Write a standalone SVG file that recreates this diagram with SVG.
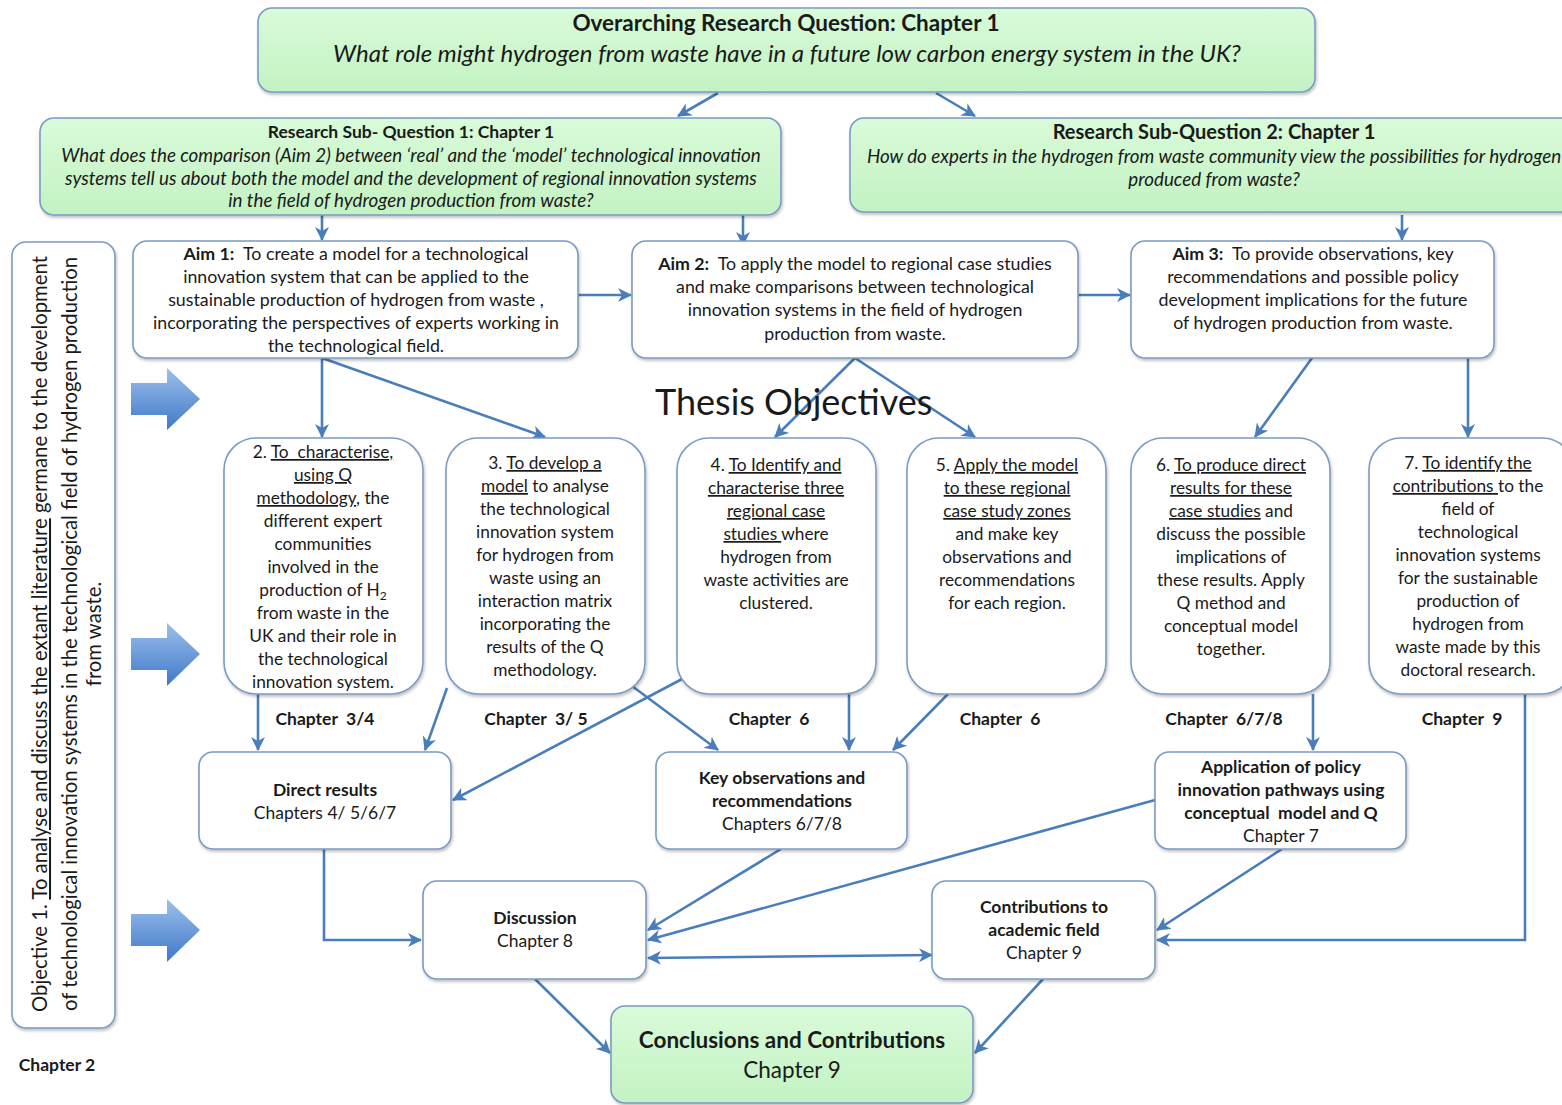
<svg xmlns="http://www.w3.org/2000/svg" width="1562" height="1105" viewBox="0 0 1562 1105">
<defs>
<style>
.box{fill:#ffffff;stroke:#7b9bc4;stroke-width:1.6;filter:url(#sh)}
.gbox{fill:url(#gg);stroke:#7b9bc4;stroke-width:1.6;filter:url(#sh)}
text{font-family:Lato,"Open Sans","Liberation Sans",sans-serif;fill:#1a1a1a}
.t{font-size:17.8px;text-anchor:middle}
.o{font-size:17.3px;text-anchor:middle}
.bt{font-size:17.5px;text-anchor:middle}
.b{font-weight:bold}
.i{font-style:italic}
.u{text-decoration:underline}
.ch{font-size:17.5px;font-weight:bold;text-anchor:middle;white-space:pre}
.c{fill:none;stroke:#4a7ebb;stroke-width:2.6}
.ca{fill:none;stroke:#4a7ebb;stroke-width:2.6;marker-end:url(#ah)}
.bar{fill:url(#bg)}
</style>
<linearGradient id="gg" x1="0" y1="0" x2="0" y2="1"><stop offset="0" stop-color="#d9fbd9"/><stop offset="1" stop-color="#c3f2c3"/></linearGradient>
<linearGradient id="bg" x1="0" y1="0" x2="0" y2="1"><stop offset="0" stop-color="#9cc0ec"/><stop offset="1" stop-color="#3f78c8"/></linearGradient>
<filter id="sh" x="-5%" y="-5%" width="110%" height="115%"><feDropShadow dx="1" dy="2" stdDeviation="1.5" flood-color="#000" flood-opacity="0.25"/></filter>
<marker id="ah" markerUnits="userSpaceOnUse" markerWidth="16" markerHeight="14" refX="13" refY="7" orient="auto"><path d="M0,0 L14,7 L0,14 L4,7 z" fill="#4a7ebb"/></marker>
<marker id="as" markerUnits="userSpaceOnUse" markerWidth="16" markerHeight="14" refX="3" refY="7" orient="auto"><path d="M16,0 L2,7 L16,14 L12,7 z" fill="#4a7ebb"/></marker>
</defs>
<rect width="1562" height="1105" fill="#ffffff"/>

<g id="connectors">
<line class="ca" x1="718" y1="93" x2="678" y2="116"/>
<line class="ca" x1="936" y1="93" x2="975" y2="116"/>
<line class="ca" x1="322" y1="215" x2="322" y2="240"/>
<line class="ca" x1="743" y1="215" x2="743" y2="245"/>
<line class="ca" x1="1402" y1="215" x2="1402" y2="240"/>
<line class="ca" x1="578" y1="295" x2="631" y2="295"/>
<line class="ca" x1="1078" y1="295" x2="1130" y2="295"/>
<line class="ca" x1="322" y1="358" x2="322" y2="437"/>
<line class="ca" x1="322" y1="358" x2="545" y2="437"/>
<line class="ca" x1="855" y1="358" x2="775" y2="437"/>
<line class="ca" x1="855" y1="358" x2="975" y2="437"/>
<line class="ca" x1="1312" y1="358" x2="1255" y2="437"/>
<line class="ca" x1="1468" y1="358" x2="1468" y2="437"/>
<line class="ca" x1="258" y1="694" x2="258" y2="750"/>
<line class="ca" x1="447" y1="688" x2="425" y2="750"/>
<line class="ca" x1="684" y1="678" x2="453" y2="800"/>
<line class="ca" x1="632" y1="686" x2="718" y2="750"/>
<line class="ca" x1="849" y1="694" x2="849" y2="750"/>
<line class="ca" x1="948" y1="694" x2="893" y2="750"/>
<line class="ca" x1="1313" y1="694" x2="1313" y2="750"/>
<polyline class="ca" points="1525,694 1525,940 1157,940"/>
<polyline class="ca" points="324,849 324,940 421,940"/>
<line class="ca" x1="781" y1="849" x2="648" y2="930"/>
<line class="ca" x1="1155" y1="800" x2="648" y2="940"/>
<line class="ca" x1="1282" y1="849" x2="1157" y2="930"/>
<line class="ca" x1="648" y1="958" x2="932" y2="955" marker-start="url(#as)"/>
<line class="ca" x1="535" y1="979" x2="610" y2="1053"/>
<line class="ca" x1="1043" y1="979" x2="975" y2="1053"/>
</g>

<g id="block-arrows">
<polygon class="bar" points="131,383 167,383 167,368 200,399 167,430 167,415 131,415"/>
<polygon class="bar" points="131,638 167,638 167,623 200,654 167,686 167,670 131,670"/>
<polygon class="bar" points="131,914 167,914 167,899 200,930 167,962 167,946 131,946"/>
</g>

<g id="overarching">
<rect class="gbox" x="258" y="8" width="1057" height="84" rx="14"/>
<text x="786" y="31" text-anchor="middle" font-size="22.5" font-weight="bold">Overarching Research Question: Chapter 1</text>
<text x="787" y="62" text-anchor="middle" font-size="24" font-style="italic">What role might hydrogen from waste have in a future low carbon energy system in the UK?</text>
</g>

<g id="subq1">
<rect class="gbox" x="40" y="118" width="741" height="97" rx="14"/>
<text x="411" y="138" text-anchor="middle" font-size="17.5" font-weight="bold">Research Sub- Question 1: Chapter 1</text>
<text class="i" x="411" y="162" text-anchor="middle" font-size="18.8">What does the comparison (Aim 2) between ‘real’ and the ‘model’ technological innovation</text>
<text class="i" x="411" y="185" text-anchor="middle" font-size="18.8">systems tell us about both the model and the development of regional innovation systems</text>
<text class="i" x="411" y="207" text-anchor="middle" font-size="18.8">in the field of hydrogen production from waste?</text>
</g>

<g id="subq2">
<rect class="gbox" x="850" y="118" width="730" height="94" rx="14"/>
<text x="1214" y="139" text-anchor="middle" font-size="20" font-weight="bold">Research Sub-Question 2: Chapter 1</text>
<text class="i" x="1214" y="163" text-anchor="middle" font-size="18.8">How do experts in the hydrogen from waste community view the possibilities for hydrogen</text>
<text class="i" x="1214" y="186" text-anchor="middle" font-size="18.8">produced from waste?</text>
</g>

<g id="objective1">
<rect class="box" x="12" y="242" width="103" height="786" rx="14"/>
<text transform="rotate(-90)" x="-634" y="47" text-anchor="middle" font-size="20.3">Objective 1. <tspan class="u">To analyse and discuss the extant literature</tspan> germane to the development</text>
<text transform="rotate(-90)" x="-634" y="77" text-anchor="middle" font-size="20.3">of technological innovation systems in the technological field of hydrogen production</text>
<text transform="rotate(-90)" x="-634" y="101" text-anchor="middle" font-size="20.3">from waste.</text>
<text x="57" y="1071" text-anchor="middle" font-size="17.5" font-weight="bold">Chapter 2</text>
</g>

<g id="aim1">
<rect class="box" x="133" y="241" width="445" height="117" rx="14"/>
<text class="t" x="356" y="260" xml:space="preserve"><tspan class="b">Aim 1:</tspan>  To create a model for a technological</text>
<text class="t" x="356" y="283">innovation system that can be applied to the</text>
<text class="t" x="356" y="306">sustainable production of hydrogen from waste ,</text>
<text class="t" x="356" y="329">incorporating the perspectives of experts working in</text>
<text class="t" x="356" y="352">the technological field.</text>
</g>

<g id="aim2">
<rect class="box" x="632" y="241" width="446" height="117" rx="14"/>
<text class="t" x="855" y="270" xml:space="preserve"><tspan class="b">Aim 2:</tspan>  To apply the model to regional case studies</text>
<text class="t" x="855" y="293">and make comparisons between technological</text>
<text class="t" x="855" y="316">innovation systems in the field of hydrogen</text>
<text class="t" x="855" y="340">production from waste.</text>
</g>

<g id="aim3">
<rect class="box" x="1131" y="241" width="363" height="117" rx="14"/>
<text class="t" x="1313" y="260" xml:space="preserve"><tspan class="b">Aim 3:</tspan>  To provide observations, key</text>
<text class="t" x="1313" y="283">recommendations and possible policy</text>
<text class="t" x="1313" y="306">development implications for the future</text>
<text class="t" x="1313" y="329">of hydrogen production from waste.</text>
</g>

<text x="655" y="415" font-size="36">Thesis Objectives</text>

<g id="obj2">
<rect class="box" x="224" y="438" width="199" height="256" rx="32"/>
<text class="o" x="323" y="458" xml:space="preserve">2. <tspan class="u">To  characterise,</tspan></text>
<text class="o" x="323" y="481"><tspan class="u">using Q</tspan></text>
<text class="o" x="323" y="504"><tspan class="u">methodology</tspan>, the</text>
<text class="o" x="323" y="527">different expert</text>
<text class="o" x="323" y="550">communities</text>
<text class="o" x="323" y="573">involved in the</text>
<text class="o" x="323" y="596">production of H<tspan font-size="12" dy="4">2</tspan></text>
<text class="o" x="323" y="619">from waste in the</text>
<text class="o" x="323" y="642">UK and their role in</text>
<text class="o" x="323" y="665">the technological</text>
<text class="o" x="323" y="688">innovation system.</text>
<text class="ch" x="325" y="725">Chapter  3/4</text>
</g>

<g id="obj3">
<rect class="box" x="446" y="438" width="199" height="256" rx="32"/>
<text class="o" x="545" y="469">3. <tspan class="u">To develop a</tspan></text>
<text class="o" x="545" y="492"><tspan class="u">model</tspan> to analyse</text>
<text class="o" x="545" y="515">the technological</text>
<text class="o" x="545" y="538">innovation system</text>
<text class="o" x="545" y="561">for hydrogen from</text>
<text class="o" x="545" y="584">waste using an</text>
<text class="o" x="545" y="607">interaction matrix</text>
<text class="o" x="545" y="630">incorporating the</text>
<text class="o" x="545" y="653">results of the Q</text>
<text class="o" x="545" y="676">methodology.</text>
<text class="ch" x="536" y="725">Chapter  3/ 5</text>
</g>

<g id="obj4">
<rect class="box" x="677" y="438" width="199" height="256" rx="32"/>
<text class="o" x="776" y="471">4. <tspan class="u">To Identify and</tspan></text>
<text class="o" x="776" y="494"><tspan class="u">characterise three</tspan></text>
<text class="o" x="776" y="517"><tspan class="u">regional case</tspan></text>
<text class="o" x="776" y="540" xml:space="preserve"><tspan class="u">studies </tspan>where</text>
<text class="o" x="776" y="563">hydrogen from</text>
<text class="o" x="776" y="586">waste activities are</text>
<text class="o" x="776" y="609">clustered.</text>
<text class="ch" x="769" y="725">Chapter  6</text>
</g>

<g id="obj5">
<rect class="box" x="907" y="438" width="199" height="256" rx="32"/>
<text class="o" x="1007" y="471">5. <tspan class="u">Apply the model</tspan></text>
<text class="o" x="1007" y="494"><tspan class="u">to these regional</tspan></text>
<text class="o" x="1007" y="517"><tspan class="u">case study zones</tspan></text>
<text class="o" x="1007" y="540">and make key</text>
<text class="o" x="1007" y="563">observations and</text>
<text class="o" x="1007" y="586">recommendations</text>
<text class="o" x="1007" y="609">for each region.</text>
<text class="ch" x="1000" y="725">Chapter  6</text>
</g>

<g id="obj6">
<rect class="box" x="1131" y="438" width="199" height="256" rx="32"/>
<text class="o" x="1231" y="471">6. <tspan class="u">To produce direct</tspan></text>
<text class="o" x="1231" y="494"><tspan class="u">results for these</tspan></text>
<text class="o" x="1231" y="517"><tspan class="u">case studies</tspan> and</text>
<text class="o" x="1231" y="540">discuss the possible</text>
<text class="o" x="1231" y="563">implications of</text>
<text class="o" x="1231" y="586">these results. Apply</text>
<text class="o" x="1231" y="609">Q method and</text>
<text class="o" x="1231" y="632">conceptual model</text>
<text class="o" x="1231" y="655">together.</text>
<text class="ch" x="1224" y="725">Chapter  6/7/8</text>
</g>

<g id="obj7">
<rect class="box" x="1369" y="438" width="205" height="256" rx="32"/>
<text class="o" x="1468" y="469">7. <tspan class="u">To identify the</tspan></text>
<text class="o" x="1468" y="492" xml:space="preserve"><tspan class="u">contributions </tspan>to the</text>
<text class="o" x="1468" y="515">field of</text>
<text class="o" x="1468" y="538">technological</text>
<text class="o" x="1468" y="561">innovation systems</text>
<text class="o" x="1468" y="584">for the sustainable</text>
<text class="o" x="1468" y="607">production of</text>
<text class="o" x="1468" y="630">hydrogen from</text>
<text class="o" x="1468" y="653">waste made by this</text>
<text class="o" x="1468" y="676">doctoral research.</text>
<text class="ch" x="1462" y="725">Chapter  9</text>
</g>

<g id="direct-results">
<rect class="box" x="199" y="752" width="252" height="97" rx="14"/>
<text class="bt b" x="325" y="796">Direct results</text>
<text class="bt" x="325" y="819">Chapters 4/ 5/6/7</text>
</g>

<g id="key-observations">
<rect class="box" x="656" y="752" width="251" height="97" rx="14"/>
<text class="bt b" x="782" y="784">Key observations and</text>
<text class="bt b" x="782" y="807">recommendations</text>
<text class="bt" x="782" y="830">Chapters 6/7/8</text>
</g>

<g id="application">
<rect class="box" x="1155" y="752" width="251" height="97" rx="14"/>
<text class="bt b" x="1281" y="773">Application of policy</text>
<text class="bt b" x="1281" y="796">innovation pathways using</text>
<text class="bt b" x="1281" y="819" xml:space="preserve">conceptual  model and Q</text>
<text class="bt" x="1281" y="842">Chapter 7</text>
</g>

<g id="discussion">
<rect class="box" x="423" y="881" width="223" height="98" rx="14"/>
<text class="bt b" x="535" y="924">Discussion</text>
<text class="bt" x="535" y="947">Chapter 8</text>
</g>

<g id="contributions">
<rect class="box" x="932" y="881" width="223" height="98" rx="14"/>
<text class="bt b" x="1044" y="913">Contributions to</text>
<text class="bt b" x="1044" y="936">academic field</text>
<text class="bt" x="1044" y="959">Chapter 9</text>
</g>

<g id="conclusions">
<rect class="gbox" x="611" y="1006" width="362" height="97" rx="14"/>
<text x="792" y="1048" text-anchor="middle" font-size="22.5" font-weight="bold">Conclusions and Contributions</text>
<text x="792" y="1078" text-anchor="middle" font-size="22.5">Chapter 9</text>
</g>
</svg>
